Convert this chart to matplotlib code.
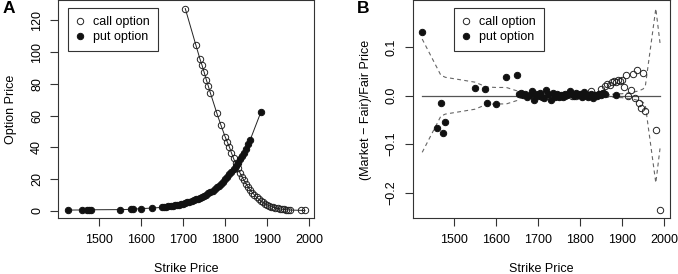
import matplotlib
matplotlib.use('Agg')
import matplotlib.pyplot as plt
from matplotlib.lines import Line2D

plt.rcParams['font.family'] = ['Liberation Sans', 'DejaVu Sans']

# ---------------- data ----------------
call_strikes = [1705, 1730, 1740, 1745, 1750, 1755, 1760, 1765, 1780, 1790,
                1800, 1805, 1810, 1815, 1820, 1825, 1830, 1835, 1840, 1845,
                1850, 1855, 1860, 1865, 1870, 1875, 1880, 1885, 1890, 1895,
                1900, 1905, 1910, 1915, 1920, 1925, 1930, 1935, 1940, 1945,
                1950, 1955, 1980, 1990]
call_prices = [127.5, 104.7, 95.7, 91.7, 87.3, 82.7, 78.5, 74.1, 61.7, 53.9,
               46.6, 43.4, 40.3, 36.5, 33.0, 29.8, 26.8, 24.0, 21.4, 19.0,
               16.8, 14.8, 13.0, 11.3, 9.8, 8.4, 7.2, 6.1, 5.2, 4.3,
               3.6, 3.0, 2.5, 2.0, 1.7, 1.4, 1.1, 0.9, 0.7, 0.55,
               0.45, 0.35, 0.15, 0.1]
call_rel = [0.002, -0.001, 0.000, 0.001, 0.000, -0.001, 0.001, 0.000, 0.000, -0.001,
            0.001, 0.000, -0.001, 0.002, 0.001, 0.009, 0.000, 0.002, 0.001, 0.004,
            0.014, 0.005, 0.021, 0.024, 0.022, 0.029, 0.031, 0.028, 0.032, 0.031,
            0.033, 0.017, 0.042, 0.000, 0.012, 0.044, -0.005, 0.053, -0.015, -0.026,
            0.046, -0.031, -0.071, -0.237]
call_bound = [0.003, 0.003, 0.003, 0.003, 0.003, 0.003, 0.003, 0.003, 0.003, 0.003,
              0.003, 0.003, 0.003, 0.003, 0.003, 0.003, 0.003, 0.003, 0.003, 0.003,
              0.003, 0.003, 0.003, 0.003, 0.003, 0.003, 0.003, 0.004, 0.004, 0.004,
              0.004, 0.005, 0.005, 0.006, 0.006, 0.007, 0.008, 0.009, 0.010, 0.012,
              0.014, 0.019, 0.180, 0.109]

put_strikes = [1425, 1460, 1470, 1475, 1480, 1550, 1575, 1580, 1600, 1625,
               1650, 1655, 1660, 1665, 1670, 1675, 1680, 1685, 1690, 1695,
               1700, 1705, 1710, 1715, 1720, 1725, 1730, 1735, 1740, 1745,
               1750, 1755, 1760, 1765, 1770, 1775, 1780, 1785, 1790, 1795,
               1800, 1805, 1810, 1815, 1820, 1825, 1830, 1835, 1840, 1845,
               1850, 1855, 1860, 1885]
put_prices = [0.3, 0.4, 0.45, 0.45, 0.5, 0.6, 0.8, 0.9, 1.2, 1.6,
              2.0, 2.2, 2.4, 2.6, 2.8, 3.0, 3.3, 3.5, 3.8, 4.1,
              4.4, 4.8, 5.2, 5.6, 6.0, 6.5, 7.0, 7.5, 8.1, 8.7,
              9.4, 10.1, 10.9, 11.7, 12.6, 13.6, 14.7, 15.8, 17.0, 18.3,
              19.7, 21.2, 22.8, 24.5, 26.3, 28.2, 30.2, 32.3, 34.4, 36.3,
              38.8, 42.0, 44.8, 62.0]
put_rel = [0.131, -0.067, -0.015, -0.078, -0.055, 0.016, 0.014, -0.015, -0.017, 0.038,
           0.042, 0.004, 0.005, 0.002, 0.003, -0.002, 0.001, 0.009, -0.009, 0.003,
           -0.001, 0.006, -0.003, -0.005, 0.011, 0.004, -0.008, 0.005, -0.002, 0.004,
           -0.003, 0.001, -0.002, 0.003, 0.001, 0.009, 0.004, -0.001, 0.006, 0.002,
           0.004, -0.002, 0.007, 0.001, -0.002, 0.003, -0.005, 0.002, -0.001, 0.004,
           0.002, 0.005, 0.003, 0.001]
put_bound = [0.117, 0.058, 0.041, 0.040, 0.038, 0.028, 0.019, 0.018, 0.017, 0.017,
             0.010, 0.006, 0.005, 0.005, 0.005, 0.005, 0.004, 0.004, 0.004, 0.004,
             0.004, 0.004, 0.004, 0.004, 0.004, 0.003, 0.003, 0.003, 0.003, 0.003,
             0.003, 0.003, 0.003, 0.003, 0.003, 0.003, 0.003, 0.003, 0.003, 0.003,
             0.003, 0.003, 0.003, 0.003, 0.002, 0.002, 0.002, 0.002, 0.002, 0.002,
             0.002, 0.002, 0.002, 0.001]

x_ticks = [1500, 1600, 1700, 1800, 1900, 2000]
yA_ticks = [0, 20, 40, 60, 80, 100, 120]
yB_ticks = [-0.2, -0.1, 0.0, 0.1]
yB_labels = ['\u22120.2', '\u22120.1', '0.0', '0.1']

# ---------------- style ----------------
INK = '#222222'
FS = 9
MS = 4.6

fig = plt.figure(figsize=(6.78, 2.74), dpi=100)
axA = fig.add_axes([0.086, 0.2026, 0.3776, 0.7956])
axB = fig.add_axes([0.6087, 0.2026, 0.3788, 0.7956])


def style_axes(ax):
    for s in ax.spines.values():
        s.set_linewidth(0.8)
        s.set_color('#333333')
    ax.tick_params(direction='out', length=5.5, width=0.8, color='#333333',
                   labelsize=FS, pad=5.5)
    ax.tick_params(axis='y', labelrotation=90)
    for lab in ax.get_yticklabels():
        lab.set_va('center')
    ax.margins(0.04)


# Panel A
axA.plot(call_strikes, call_prices, '-', color=INK, lw=0.7, marker='o',
         mfc='none', mec=INK, ms=MS, mew=0.7)
axA.plot(put_strikes, put_prices, '-', color=INK, lw=0.7, marker='o',
         mfc='#111111', mec='#111111', ms=MS, mew=0.7)
axA.set_xticks(x_ticks)
axA.set_yticks(yA_ticks)
axA.set_xlabel('Strike Price', fontsize=FS, labelpad=12.5)
axA.set_ylabel('Option Price', fontsize=FS, labelpad=10)
style_axes(axA)

# Panel B
all_strikes = put_strikes + call_strikes
axB.plot([min(all_strikes), max(all_strikes)], [0, 0], color='#555555', lw=0.9)
dash = (0, (3.5, 3))
axB.plot(put_strikes, put_bound, ls=dash, color='#666666', lw=0.8)
axB.plot(put_strikes, [-b for b in put_bound], ls=dash, color='#666666', lw=0.8)
axB.plot(call_strikes, call_bound, ls=dash, color='#666666', lw=0.8)
axB.plot(call_strikes, [-b for b in call_bound], ls=dash, color='#666666', lw=0.8)
axB.plot(call_strikes, call_rel, ls='none', marker='o', mfc='none', mec=INK,
         ms=MS, mew=0.7)
axB.plot(put_strikes, put_rel, ls='none', marker='o', mfc='#111111',
         mec='#111111', ms=MS, mew=0.7)
axB.set_xticks(x_ticks)
axB.set_yticks(yB_ticks)
axB.set_yticklabels(yB_labels)
axB.set_xlabel('Strike Price', fontsize=FS, labelpad=12.5)
axB.set_ylabel('(Market \u2212 Fair)/Fair Price', fontsize=FS, labelpad=9.5)
style_axes(axB)

# Legends
handles = [Line2D([], [], ls='none', marker='o', mfc='none', mec=INK, ms=MS, mew=0.7),
           Line2D([], [], ls='none', marker='o', mfc='#111111', mec='#111111', ms=MS, mew=0.7)]
labels = ['call option', 'put option']
for ax, x0 in ((axA, 0.0367), (axB, 0.161)):
    leg = ax.legend(handles, labels, loc='upper left', bbox_to_anchor=(x0, 0.964),
                    frameon=True, fancybox=False, edgecolor='#333333', framealpha=1,
                    borderaxespad=0, handlelength=0.6, handletextpad=0.75,
                    borderpad=0.65, labelspacing=0.2, fontsize=FS)
    leg.get_frame().set_linewidth(0.8)

fig.text(0.004, 0.995, 'A', fontsize=12.5, weight='bold', va='top', ha='left')
fig.text(0.526, 0.995, 'B', fontsize=12.5, weight='bold', va='top', ha='left')

fig.savefig('out.png', dpi=100)
